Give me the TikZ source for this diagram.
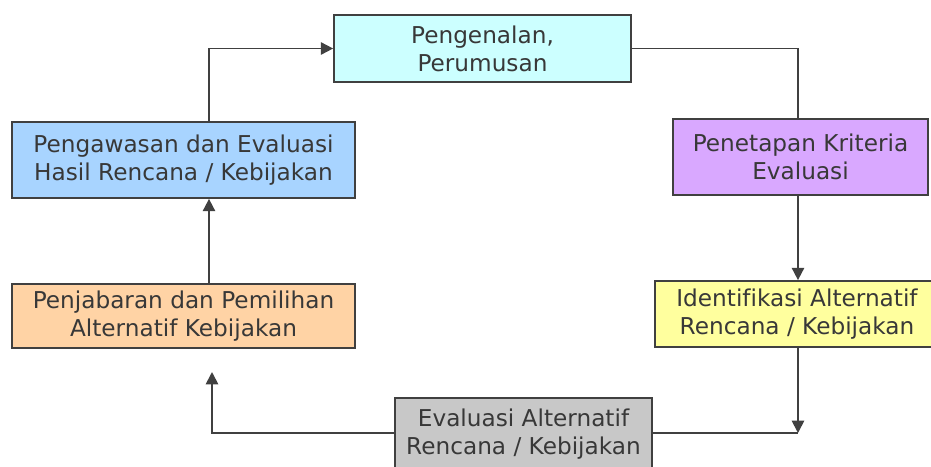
\documentclass[tikz,border=0pt]{standalone}
\usepackage{fontspec}
\setmainfont[Ligatures=NoCommon]{DejaVu Sans}
\usepackage{xcolor}
\usetikzlibrary{arrows.meta}
\definecolor{introfill}{HTML}{CCFFFF}
\definecolor{critfill}{HTML}{D9A8FF}
\definecolor{identfill}{HTML}{FFFF9E}
\definecolor{evalfill}{HTML}{C8C8C8}
\definecolor{selectfill}{HTML}{FFD3A5}
\definecolor{watchfill}{HTML}{A8D4FF}
\definecolor{linegray}{HTML}{404040}

\begin{document}
\begin{tikzpicture}[x=0.02cm, y=-0.02cm,
  stagebox/.style={draw=linegray, line width=1pt, inner sep=0pt, align=center,
    text=black!78, font=\fontsize{13.2}{16}\selectfont},
  flow/.style={draw=linegray, line width=1pt},
  flowarrow/.style={flow, -{Triangle[width=7pt,length=7pt]}}]
  \useasboundingbox (0,0) rectangle (931,467);
  \fill[white] (0,0) rectangle (931,467);
  % stages of the cycle
  \node[stagebox, fill=introfill, minimum width=5.94cm, minimum height=1.34cm] (intro) at (482.5,48.5) {Pengenalan,\\Perumusan};
  \node[stagebox, fill=critfill, minimum width=5.10cm, minimum height=1.52cm] (crit) at (800.5,157) {Penetapan Kriteria\\Evaluasi};
  \node[stagebox, fill=identfill, minimum width=5.68cm, minimum height=1.32cm] (ident) at (797,314) {Identifikasi Alternatif\\Rencana / Kebijakan};
  \node[stagebox, fill=evalfill, minimum width=5.14cm, minimum height=1.44cm] (eval) at (523.5,434) {Evaluasi Alternatif\\Rencana / Kebijakan};
  \node[stagebox, fill=selectfill, minimum width=6.86cm, minimum height=1.28cm] (select) at (183.5,316) {Penjabaran dan Pemilihan\\Alternatif Kebijakan};
  \node[stagebox, fill=watchfill, minimum width=6.86cm, minimum height=1.52cm] (watch) at (183.5,160) {Pengawasan dan Evaluasi\\Hasil Rencana / Kebijakan};
  % bend points
  \coordinate (leftup) at (209,48.5);
  \coordinate (rightdown) at (798,48.5);
  \coordinate (join) at (798,433);
  \coordinate (backup) at (212,372);
  % connectors
  \draw[flowarrow] (watch.north -| leftup) |- (intro.west);
  \draw[flow] (intro.east) -- (rightdown) -- (crit.north -| rightdown);
  \draw[flowarrow] (crit.south -| rightdown) -- (ident.north -| rightdown);
  \draw[flowarrow] (ident.south -| rightdown) -- (join);
  \draw[flow] (eval.east |- join) -- (join);
  \draw[flowarrow] (eval.west |- join) -| (backup);
  \draw[flowarrow] (select.north -| leftup) -- (watch.south -| leftup);
\end{tikzpicture}
\end{document}
